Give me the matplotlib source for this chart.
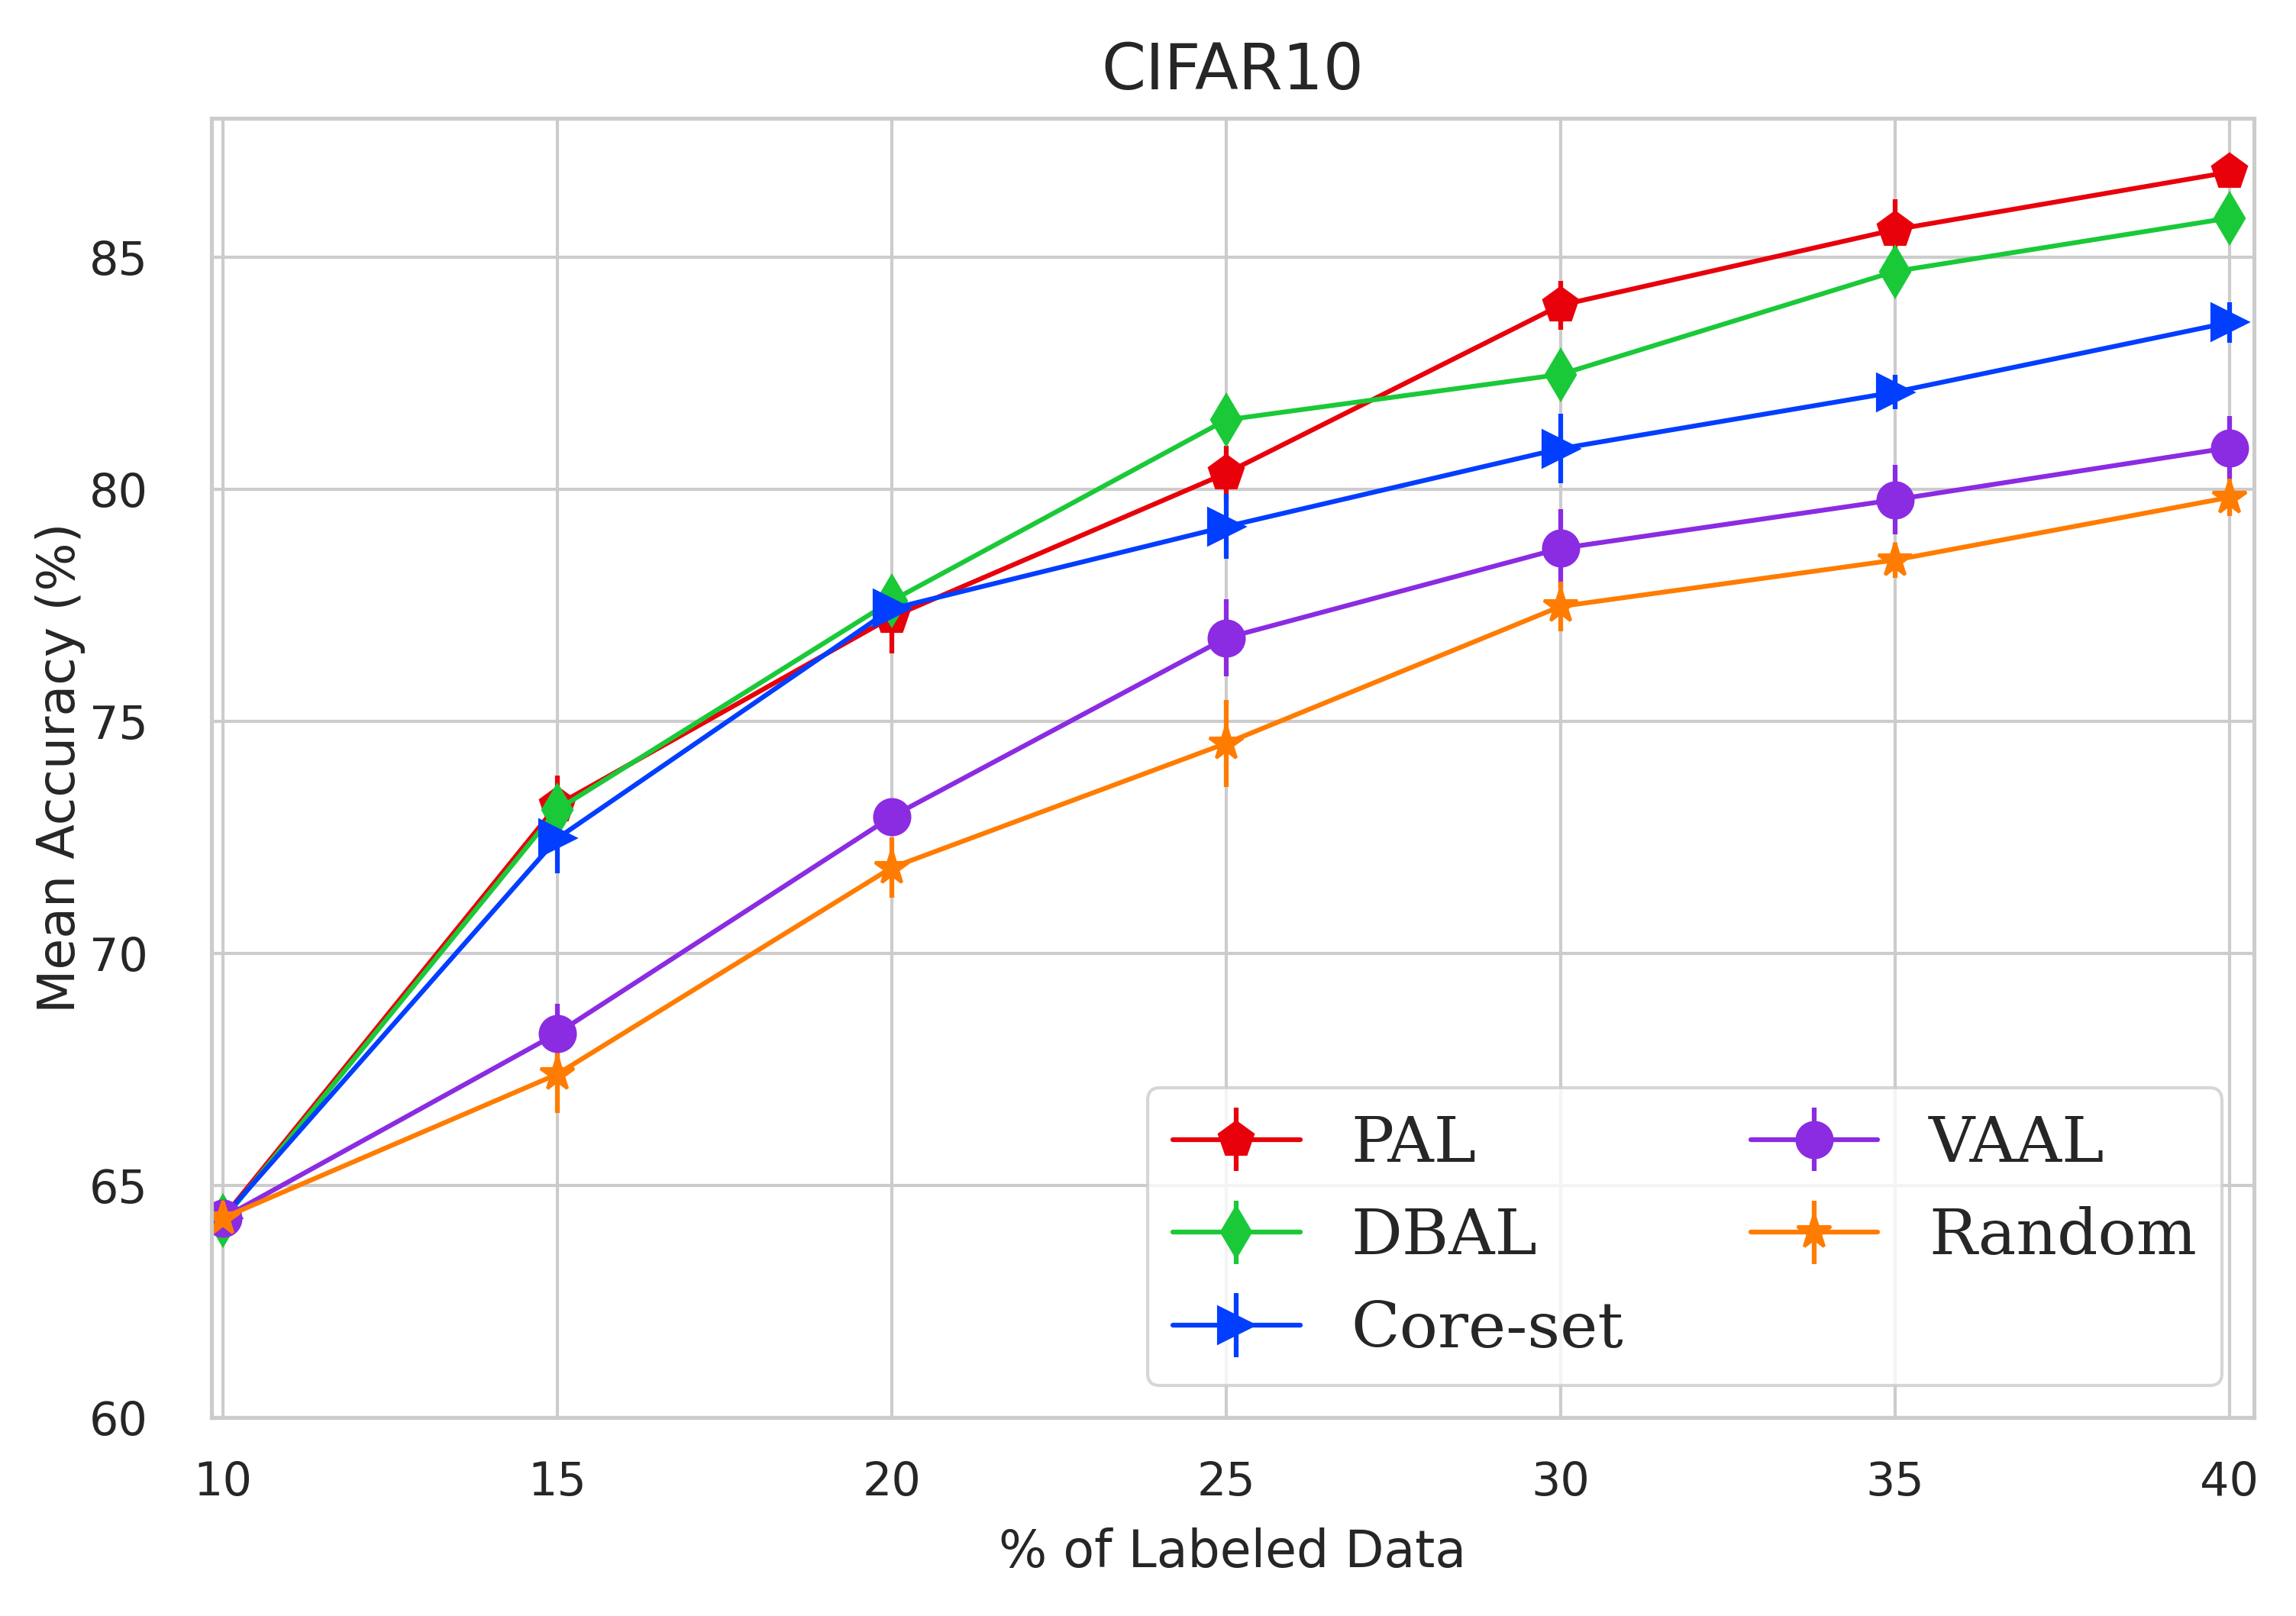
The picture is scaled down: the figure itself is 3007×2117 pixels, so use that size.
import numpy as np
import matplotlib
matplotlib.use('Agg')
import matplotlib.pyplot as plt
import seaborn as sns

sns.set_theme(style='whitegrid')
plt.rcParams['font.family'] = ['DejaVu Sans']

# % of labeled data
labeled = [10, 15, 20, 25, 30, 35, 40]

# mean accuracy (%) and std for each method
pal_mean = [64.3, 73.2, 77.25, 80.35, 83.97, 85.6, 86.84]
pal_std = [0.2, 0.63, 0.78, 0.6, 0.53, 0.65, 0.3]

dbal_mean = [64.25, 73.1, 77.6, 81.5, 82.48, 84.7, 85.85]
dbal_std = [0.2, 0.5, 0.3, 0.3, 0.35, 0.4, 0.3]

coreset_mean = [64.3, 72.48, 77.43, 79.2, 80.88, 82.1, 83.6]
coreset_std = [0.2, 0.75, 0.3, 0.7, 0.75, 0.37, 0.44]

vaal_mean = [64.3, 68.28, 72.95, 76.8, 78.73, 79.78, 80.9]
vaal_std = [0.2, 0.63, 0.4, 0.83, 0.85, 0.75, 0.68]

random_mean = [64.3, 67.4, 71.85, 74.53, 77.48, 78.48, 79.83]
random_std = [0.2, 0.84, 0.65, 0.94, 0.53, 0.38, 0.4]

methods = ['PAL', 'DBAL', 'Core-set', 'VAAL', 'Random']
means = [pal_mean, dbal_mean, coreset_mean, vaal_mean, random_mean]
stds = [pal_std, dbal_std, coreset_std, vaal_std, random_std]
markers = ['p', 'd', '>', 'o', '*']
colors = ['#e8000b', '#1ac938', '#023eff', '#8b2be2', '#ff7c00']

fig = plt.figure(figsize=(3007 / 300, 2117 / 300), dpi=300)
ax = fig.add_axes([0.0921, 0.1228, 0.8896, 0.804])

for name, m, s, mk, c in zip(methods, means, stds, markers, colors):
    ax.errorbar(labeled, m, yerr=s, marker=mk, color=c, ms=11,
                lw=1.5, elinewidth=1.5, label=name)

ax.set_xlim(9.83, 40.37)
ax.set_ylim(60, 88)
ax.set_xticks(labeled)
ax.set_yticks([60, 65, 70, 75, 80, 85])
ax.tick_params(axis='x', labelsize=14.5, pad=7.5)
ax.tick_params(axis='y', labelsize=14.5, pad=14)
ax.set_xlabel('% of Labeled Data', fontsize=16, labelpad=7)
ax.set_ylabel('Mean Accuracy (%)', fontsize=16, labelpad=1)
ax.set_title('CIFAR10', fontsize=20, pad=9)

ax.legend(loc='lower right', ncol=2, prop={'family': 'DejaVu Serif', 'size': 20})

fig.savefig('out.png', dpi=300)
